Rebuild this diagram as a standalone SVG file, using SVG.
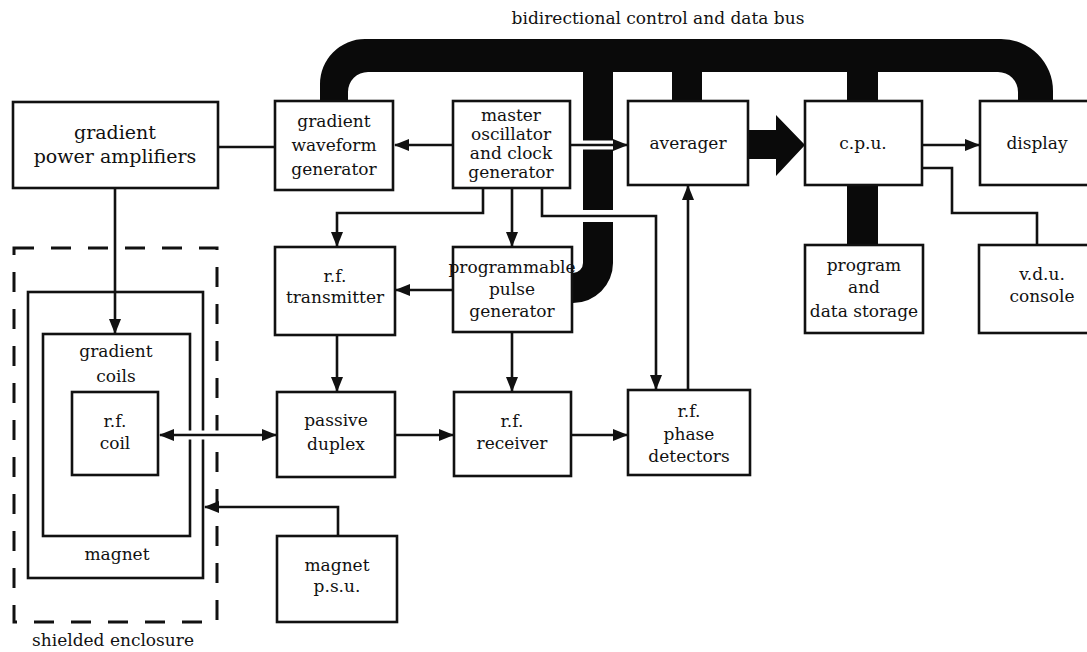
<svg xmlns="http://www.w3.org/2000/svg" width="1087" height="652" viewBox="0 0 1087 652">
<style>
.box{fill:#fff;stroke:#111;stroke-width:2.6}
.ln{fill:none;stroke:#111;stroke-width:2.6}
.halo{fill:none;stroke:#fff;stroke-width:9}
.bus{fill:#0a0a0a;stroke:none}
text{font-family:"DejaVu Serif","Liberation Serif",serif;font-size:17px;fill:#111;text-anchor:middle}
.big{font-size:19px}
.dash{fill:none;stroke:#111;stroke-width:3;stroke-dasharray:20 17}
</style>
<defs>
<marker id="arr" markerUnits="userSpaceOnUse" markerWidth="15" markerHeight="12" refX="14" refY="6" orient="auto-start-reverse">
<path d="M0,0 L15,6 L0,12 Z" fill="#111"/>
</marker>
</defs>
<rect width="1087" height="652" fill="#fff"/>

<g id="bus">
<path class="bus" d="M320 100 L320 84 A45 45 0 0 1 365 39 L1001 39 A52 52 0 0 1 1053 91 L1053 100 L1018 100 L1018 92 A20 20 0 0 0 998 72 L878 72 L878 100 L847 100 L847 72 L702 72 L702 100 L672 100 L672 72 L613 72 L613 210 L583 210 L583 72 L368 72 A20 20 0 0 0 348 92 L348 100 Z"/>
<path class="bus" d="M583 222 L613 222 L613 263 A40 40 0 0 1 573 303 L570 303 L570 273 L573 273 A10 10 0 0 0 583 263 Z"/>
<text x="658" y="24">bidirectional control and data bus</text>
</g>

<g id="enclosure">
<rect class="dash" x="14" y="248" width="203" height="374"/>
<text x="113" y="646">shielded enclosure</text>
</g>

<g id="magnet">
<rect class="box" x="28" y="292" width="175" height="286"/>
<text x="117" y="560">magnet</text>
</g>
<g id="gradient-coils">
<rect class="box" x="43" y="334" width="147" height="202"/>
<text x="116" y="357">gradient</text>
<text x="116" y="382">coils</text>
</g>
<g id="rf-coil">
<rect class="box" x="72" y="392" width="86" height="83"/>
<text x="115" y="427">r.f.</text>
<text x="115" y="449">coil</text>
</g>

<g id="connectors">
<line class="ln" x1="218" y1="147" x2="275" y2="147"/>
<line class="ln" x1="453" y1="145" x2="395" y2="145" marker-end="url(#arr)"/>
<line class="halo" x1="578" y1="145" x2="618" y2="145"/>
<line class="ln" x1="570" y1="145" x2="627" y2="145" marker-end="url(#arr)"/>
<polygon fill="#0a0a0a" points="748,130 776,130 776,115 805,145 776,176 776,159 748,159"/>
<line class="ln" x1="922" y1="145" x2="979" y2="145" marker-end="url(#arr)"/>
<polyline class="ln" points="922,168 952,168 952,213 1037,213 1037,245"/>
<rect fill="#0a0a0a" x="847" y="185" width="31" height="60"/>
<polyline class="ln" points="483,188 483,213 337,213 337,246" marker-end="url(#arr)"/>
<line class="ln" x1="512" y1="188" x2="512" y2="246" marker-end="url(#arr)"/>
<polyline class="ln" points="542,188 542,216 656,216 656,389" marker-end="url(#arr)"/>
<line class="ln" x1="688" y1="390" x2="688" y2="186" marker-end="url(#arr)"/>
<line class="ln" x1="453" y1="290" x2="396" y2="290" marker-end="url(#arr)"/>
<line class="ln" x1="337" y1="335" x2="337" y2="391" marker-end="url(#arr)"/>
<line class="ln" x1="512" y1="332" x2="512" y2="391" marker-end="url(#arr)"/>
<line class="ln" x1="395" y1="435" x2="453" y2="435" marker-end="url(#arr)"/>
<line class="ln" x1="571" y1="435" x2="627" y2="435" marker-end="url(#arr)"/>
<line class="halo" x1="183" y1="435" x2="223" y2="435"/>
<line class="ln" x1="160" y1="435" x2="276" y2="435" marker-start="url(#arr)" marker-end="url(#arr)"/>
<line class="ln" x1="115" y1="188" x2="115" y2="333" marker-end="url(#arr)"/>
<polyline class="ln" points="338,536 338,507 205,507" marker-end="url(#arr)"/>
</g>

<g id="gradient-power-amplifiers">
<rect class="box" x="13" y="102" width="205" height="86"/>
<text class="big" x="115" y="139">gradient</text>
<text class="big" x="115" y="163">power amplifiers</text>
</g>
<g id="gradient-waveform-generator">
<rect class="box" x="275" y="101" width="118" height="89"/>
<text x="334" y="127">gradient</text>
<text x="334" y="151">waveform</text>
<text x="334" y="175">generator</text>
</g>
<g id="master-oscillator">
<rect class="box" x="453" y="101" width="117" height="87"/>
<text x="511" y="121">master</text>
<text x="511" y="140">oscillator</text>
<text x="511" y="159">and clock</text>
<text x="511" y="178">generator</text>
</g>
<g id="averager">
<rect class="box" x="628" y="101" width="120" height="84"/>
<text x="688" y="149">averager</text>
</g>
<g id="cpu">
<rect class="box" x="805" y="101" width="117" height="84"/>
<text x="863" y="149">c.p.u.</text>
</g>
<g id="display">
<rect class="box" x="980" y="101" width="120" height="84"/>
<text x="1037" y="149">display</text>
</g>
<g id="program-storage">
<rect class="box" x="805" y="245" width="118" height="88"/>
<text x="864" y="271">program</text>
<text x="864" y="293">and</text>
<text x="864" y="317">data storage</text>
</g>
<g id="vdu-console">
<rect class="box" x="979" y="245" width="120" height="88"/>
<text x="1042" y="280">v.d.u.</text>
<text x="1042" y="302">console</text>
</g>
<g id="rf-transmitter">
<rect class="box" x="275" y="247" width="120" height="88"/>
<text x="335" y="282">r.f.</text>
<text x="335" y="303">transmitter</text>
</g>
<g id="pulse-generator">
<rect class="box" x="453" y="247" width="119" height="85"/>
<text x="512" y="273">programmable</text>
<text x="512" y="295">pulse</text>
<text x="512" y="317">generator</text>
</g>
<g id="passive-duplex">
<rect class="box" x="277" y="392" width="118" height="85"/>
<text x="336" y="426">passive</text>
<text x="336" y="450">duplex</text>
</g>
<g id="rf-receiver">
<rect class="box" x="454" y="392" width="117" height="84"/>
<text x="512" y="427">r.f.</text>
<text x="512" y="449">receiver</text>
</g>
<g id="phase-detectors">
<rect class="box" x="628" y="390" width="122" height="85"/>
<text x="689" y="417">r.f.</text>
<text x="689" y="440">phase</text>
<text x="689" y="462">detectors</text>
</g>
<g id="magnet-psu">
<rect class="box" x="277" y="536" width="120" height="86"/>
<text x="337" y="571">magnet</text>
<text x="337" y="592">p.s.u.</text>
</g>
</svg>
